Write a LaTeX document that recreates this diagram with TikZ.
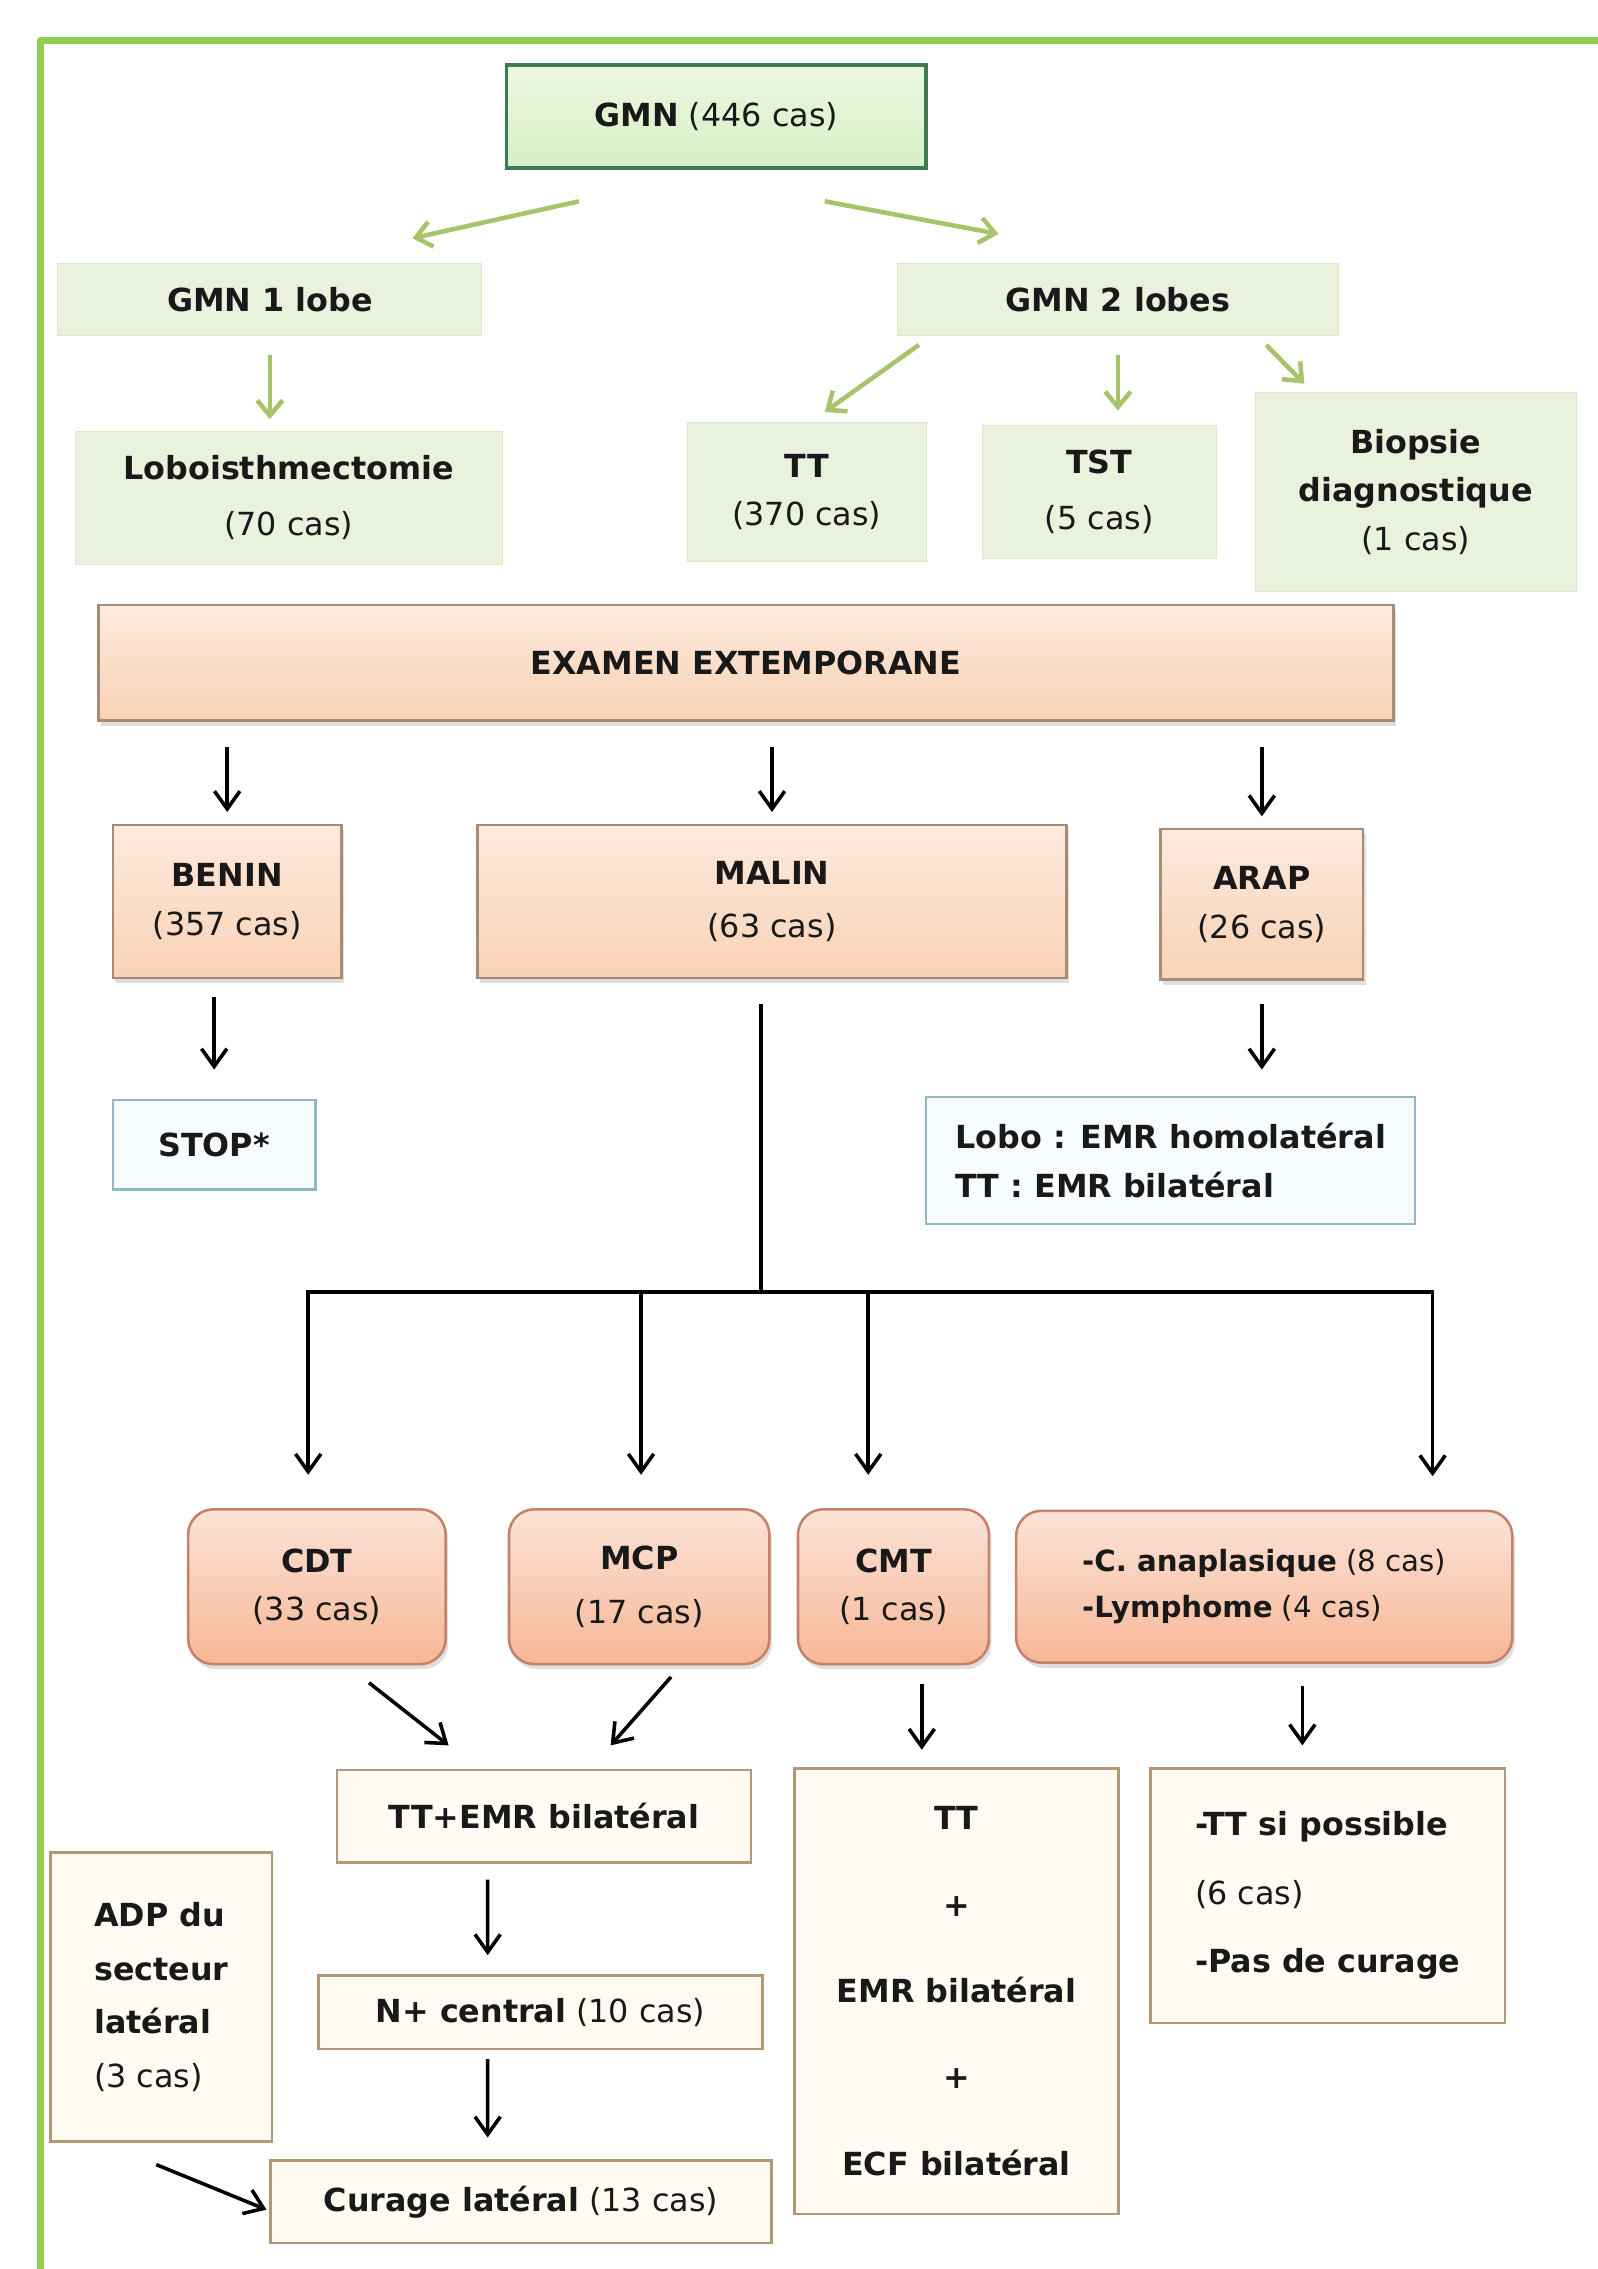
\documentclass[tikz,border=0pt]{standalone}
\usepackage{fontspec}
\setmainfont{DejaVu Sans}
\usetikzlibrary{positioning,shadows,arrows.meta}
\definecolor{framegreen}{HTML}{92D050}
\definecolor{gmnedge}{HTML}{3F7A55}
\definecolor{gmntop}{HTML}{EDF7DF}
\definecolor{gmnbot}{HTML}{D6F0C6}
\definecolor{lobefill}{HTML}{EAF1DC}
\definecolor{lobeedge}{HTML}{DDE8C6}
\definecolor{lobearrow}{HTML}{A8C46A}
\definecolor{peachtop}{HTML}{FDEADD}
\definecolor{peachbot}{HTML}{F8D2B5}
\definecolor{peachedge}{HTML}{A88B74}
\definecolor{stopedge}{HTML}{8FB8C6}
\definecolor{stopfill}{HTML}{F7FBFD}
\definecolor{salmontop}{HTML}{FCE3D7}
\definecolor{salmonbot}{HTML}{F6B796}
\definecolor{salmonedge}{HTML}{C4826A}
\definecolor{creamedge}{HTML}{B39878}
\definecolor{creamfill}{HTML}{FFFBF3}

\begin{document}
\begin{tikzpicture}[x=0.02cm,y=-0.02cm,
	txt/.style={font=\fontsize{12.5}{19}\selectfont,align=center,inner sep=2pt,text=black!90},
	gmnbox/.style={txt,draw=gmnedge,line width=1.3pt,top color=gmntop,bottom color=gmnbot},
	lobebox/.style={txt,draw=lobeedge,fill=lobefill},
	peachbox/.style={txt,draw=peachedge,line width=1pt,top color=peachtop,bottom color=peachbot,drop shadow={shadow xshift=1pt,shadow yshift=-2pt,opacity=0.25}},
	stopbox/.style={txt,draw=stopedge,line width=1pt,fill=stopfill},
	tumbox/.style={txt,draw=salmonedge,line width=1pt,rounded corners=0.35cm,top color=salmontop,bottom color=salmonbot,drop shadow={shadow xshift=1pt,shadow yshift=-2pt,opacity=0.25}},
	treatbox/.style={txt,draw=creamedge,line width=1pt,fill=creamfill},
	garr/.style={draw=lobearrow,line width=1.8pt,-{Straight Barb[length=6pt,width=10pt]}},
	barr/.style={line width=1.4pt,-{Straight Barb[length=7pt,width=10pt]}}]
		\useasboundingbox (0,0) rectangle (1104,1568);
		\draw[framegreen,line width=3.1pt,line join=round] (28,1568) -- (28,28) -- (1104,28);
		\node[gmnbox,minimum width=5.8cm,minimum height=1.42cm] (gmn) at (495,80.5) {\textbf{GMN} (446 cas)};
		\node[lobebox,minimum width=5.86cm,minimum height=1cm] (gmn1) at (186.5,207) {\textbf{GMN 1 lobe}};
		\node[lobebox,minimum width=6.1cm,minimum height=1cm] (gmn2) at (772.5,207) {\textbf{GMN 2 lobes}};
		\node[lobebox,minimum width=5.9cm,minimum height=1.84cm] (lobo) at (199.5,344) {\textbf{Loboisthmectomie}\\[3pt](70 cas)};
		\node[lobebox,minimum width=3.3cm,minimum height=1.92cm] (tt) at (557.5,340) {\textbf{TT}\\(370 cas)};
		\node[lobebox,minimum width=3.24cm,minimum height=1.84cm] (tst) [right=0.76cm of tt] {\textbf{TST}\\[3pt](5 cas)};
		\node[lobebox,minimum width=4.44cm,minimum height=2.74cm] (biop) [right=0.52cm of tst] {\textbf{Biopsie}\\\textbf{diagnostique}\\(1 cas)};
		\node[peachbox,minimum width=17.9cm,minimum height=1.6cm] (exam) at (515.5,458) {\textbf{EXAMEN EXTEMPORANE}};
		\node[peachbox,minimum width=3.16cm,minimum height=2.12cm] (benin) at (157,623) {\textbf{BENIN}\\(357 cas)};
		\node[peachbox,minimum width=8.14cm,minimum height=2.12cm] (malin) at (533.5,623) {\textbf{MALIN}\\[2pt](63 cas)};
		\node[peachbox,minimum width=2.8cm,minimum height=2.08cm] (arap) at (872,625) {\textbf{ARAP}\\(26 cas)};
		\node[stopbox,minimum width=2.8cm,minimum height=1.24cm] (stop) at (148,791) {\textbf{STOP*}};
		\node[stopbox,minimum width=6.76cm,minimum height=1.76cm,align=left] (emr) at (809,802) {\textbf{Lobo : EMR homolatéral}\\\textbf{TT : EMR bilatéral}};
		\node[tumbox,minimum width=3.56cm,minimum height=2.14cm] (cdt) at (219,1096.5) {\textbf{CDT}\\(33 cas)};
		\node[tumbox,minimum width=3.6cm,minimum height=2.14cm] (mcp) [right=0.84cm of cdt] {\textbf{MCP}\\[2pt](17 cas)};
		\node[tumbox,minimum width=2.64cm,minimum height=2.14cm] (cmt) [right=0.36cm of mcp] {\textbf{CMT}\\(1 cas)};
		\node[tumbox,minimum width=6.86cm,minimum height=2.1cm,align=left,font=\fontsize{11.5}{18}\selectfont] (ana) [right=0.34cm of cmt] {\textbf{-C. anaplasique} (8 cas)\\\textbf{-Lymphome} (4 cas)};
		\node[treatbox,minimum width=5.72cm,minimum height=1.28cm] (tteb) at (376,1255) {\textbf{TT+EMR bilatéral}};
		\node[treatbox,minimum width=4.48cm,minimum height=6.16cm] (cmtres) at (661,1376) {\textbf{TT}\\[15pt]\textbf{+}\\[15pt]\textbf{EMR bilatéral}\\[15pt]\textbf{+}\\[15pt]\textbf{ECF bilatéral}};
		\node[treatbox,minimum width=4.9cm,minimum height=3.52cm,align=left] (ttsi) at (917.5,1310) {\textbf{-TT si possible}\\[8pt](6 cas)\\[8pt]\textbf{-Pas de curage}};
		\node[treatbox,minimum width=3.06cm,minimum height=4cm,align=left] (adp) at (111.5,1380) {\textbf{ADP du}\\[2pt]\textbf{secteur}\\[2pt]\textbf{latéral}\\[2pt](3 cas)};
		\node[treatbox,minimum width=6.14cm,minimum height=1.02cm] (nplus) at (373.5,1390.5) {\textbf{N+ central} (10 cas)};
		\node[treatbox,minimum width=6.92cm,minimum height=1.14cm] (curage) at (360,1521.5) {\textbf{Curage latéral} (13 cas)};
		\draw[garr] ([xshift=-1.9cm,yshift=-0.44cm]gmn.south) -- ([xshift=1.97cm,yshift=0.34cm]gmn1.north);
		\draw[garr] ([xshift=1.5cm,yshift=-0.44cm]gmn.south) -- ([xshift=-1.65cm,yshift=0.4cm]gmn2.north);
		\draw[garr,shorten <=0.26cm,shorten >=0.16cm] (gmn1.south) -- (gmn1.south |- lobo.north);
		\draw[garr] ([xshift=-2.75cm,yshift=-0.12cm]gmn2.south) -- ([xshift=0.25cm,yshift=0.14cm]tt.north);
		\draw[garr,shorten <=0.26cm,shorten >=0.2cm] (gmn2.south) -- (gmn2.south |- tst.north);
		\draw[garr] ([xshift=2.05cm,yshift=-0.12cm]gmn2.south) -- ([xshift=-1.54cm,yshift=0.12cm]biop.north);
		\draw[barr,shorten <=0.34cm,shorten >=0.16cm] (benin.north |- exam.south) -- (benin.north);
		\draw[barr,shorten <=0.34cm,shorten >=0.16cm] (malin.north |- exam.south) -- (malin.north);
		\draw[barr,shorten <=0.34cm,shorten >=0.16cm] (arap.north |- exam.south) -- (arap.north);
		\draw[barr,shorten <=0.24cm,shorten >=0.4cm] (stop.north |- benin.south) -- (stop.north);
		\draw[barr,shorten <=0.32cm,shorten >=0.36cm] (arap.south) -- (arap.south |- emr.north);
		\coordinate (split) at (526,893);
		\coordinate (f1) at (213,893);
		\coordinate (f2) at (443,893);
		\coordinate (f3) at (600,893);
		\coordinate (f4) at (990,893);
		\draw[line width=1.4pt,shorten <=0.34cm] (split |- malin.south) -- (split);
		\draw[line width=1.4pt,line cap=rect] (f1) -- (f4);
		\draw[barr,shorten >=0.46cm] (f1) -- (f1 |- cdt.north);
		\draw[barr,shorten >=0.46cm] (f2) -- (f2 |- mcp.north);
		\draw[barr,shorten >=0.46cm] (f3) -- (f3 |- cmt.north);
		\draw[barr,shorten >=0.46cm] (f4) -- (f4 |- ana.north);
		\coordinate (c3) at ([xshift=-0.48cm]cmtres.north);
		\coordinate (c4) at ([xshift=-0.35cm]ttsi.north);
		\draw[barr] ([xshift=0.72cm,yshift=-0.24cm]cdt.south) -- ([xshift=-1.32cm,yshift=0.32cm]tteb.north);
		\draw[barr] ([xshift=0.44cm,yshift=-0.16cm]mcp.south) -- ([xshift=0.92cm,yshift=0.32cm]tteb.north);
		\draw[barr,shorten <=0.26cm,shorten >=0.24cm] (c3 |- cmt.south) -- (c3);
		\draw[barr,shorten <=0.3cm,shorten >=0.3cm] (c4 |- ana.south) -- (c4);
		\draw[barr] ([xshift=-0.78cm,yshift=-0.22cm]tteb.south) -- ([xshift=-0.73cm,yshift=0.26cm]nplus.north);
		\draw[barr] ([xshift=-0.73cm,yshift=-0.12cm]nplus.south) -- ([xshift=-0.46cm,yshift=0.3cm]curage.north);
		\draw[barr] ([xshift=-0.07cm,yshift=-0.3cm]adp.south) -- ([xshift=-0.04cm,yshift=-0.11cm]curage.west);
	\end{tikzpicture}
\end{document}
